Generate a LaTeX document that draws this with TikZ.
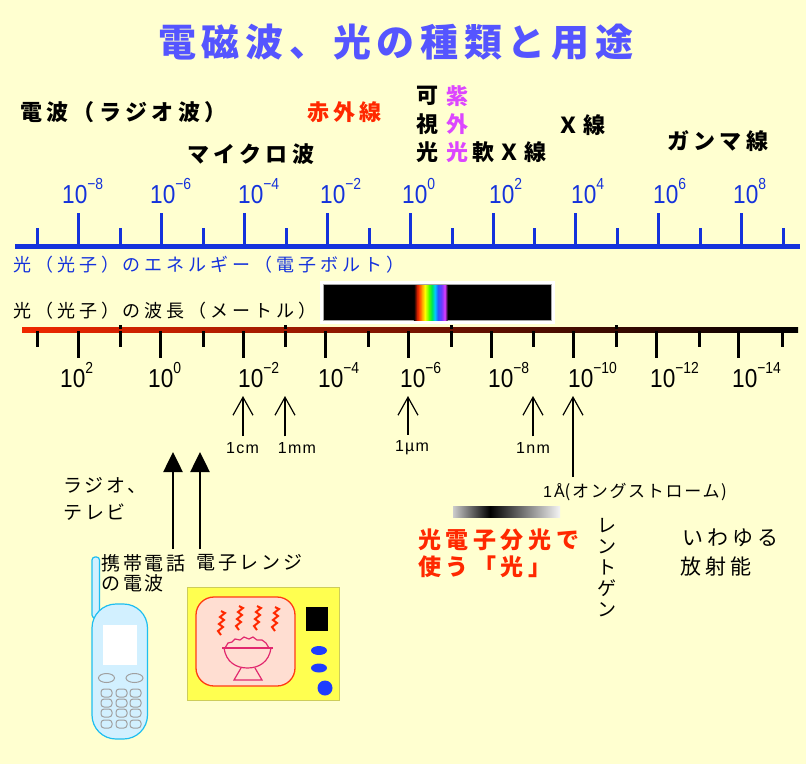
\documentclass[tikz,border=0pt]{standalone}
\usepackage{fontspec}
\usetikzlibrary{arrows.meta}
\setmainfont{Liberation Sans}
\newfontfamily\jp{Noto Sans CJK JP}
\newfontfamily\lat{Liberation Sans}

\definecolor{bg}{RGB}{255,255,208}
\definecolor{titleblue}{RGB}{85,85,255}
\definecolor{axisblue}{RGB}{20,50,220}
\definecolor{irred}{RGB}{255,40,0}
\definecolor{uvpurple}{RGB}{220,70,255}
\definecolor{axred}{RGB}{240,40,0}
\definecolor{axmid}{RGB}{145,22,0}
\definecolor{sp1}{RGB}{200,30,0}
\definecolor{sp2}{RGB}{255,60,0}
\definecolor{sp3}{RGB}{255,160,0}
\definecolor{sp4}{RGB}{255,255,0}
\definecolor{sp5}{RGB}{80,255,0}
\definecolor{sp6}{RGB}{0,230,90}
\definecolor{sp7}{RGB}{0,200,255}
\definecolor{sp8}{RGB}{40,90,255}
\definecolor{sp9}{RGB}{120,60,255}
\definecolor{sp10}{RGB}{220,60,255}
\definecolor{phoneline}{RGB}{30,190,240}
\definecolor{phonefill}{RGB}{210,240,255}
\definecolor{keygray}{RGB}{160,160,160}
\definecolor{ovenyellow}{RGB}{255,255,80}
\definecolor{ovenedge}{RGB}{205,205,90}
\definecolor{winfill}{RGB}{255,222,210}
\definecolor{winedge}{RGB}{255,60,20}
\definecolor{bowlpink}{RGB}{225,40,110}
\definecolor{knobblue}{RGB}{30,60,255}

% power of ten label: 10 with raised exponent
\newcommand\tenp[1]{\scalebox{0.87}[1]{10\raisebox{14pt}{\fontsize{16}{16}\selectfont#1}}}

\begin{document}
\begin{tikzpicture}[x=1pt,y=-1pt,
  ttl/.style={font=\jp\bfseries\fontsize{38}{40}\selectfont\addfontfeature{LetterSpace=15},
    text=titleblue, inner sep=0, anchor=west},
  band/.style={font=\jp\bfseries\fontsize{22}{24}\selectfont\addfontfeature{LetterSpace=20},
    inner sep=0, anchor=west},
  capt/.style={font=\jp\fontsize{18}{20}\selectfont\addfontfeature{LetterSpace=22},
    inner sep=0, anchor=west},
  powlbl/.style={font=\lat\fontsize{26}{26}\selectfont, inner sep=0, anchor=base west},
  unitlbl/.style={font=\lat\fontsize{16}{16}\selectfont\addfontfeature{LetterSpace=8}, inner sep=0},
  small/.style={font=\jp\fontsize{19}{21}\selectfont\addfontfeature{LetterSpace=15},
    inner sep=0, anchor=west},
  redb/.style={font=\jp\bfseries\fontsize{23}{24}\selectfont\addfontfeature{LetterSpace=20},
    text=irred, inner sep=0, anchor=west},
  medium/.style={font=\jp\fontsize{21}{23}\selectfont\addfontfeature{LetterSpace=20},
    inner sep=0, anchor=west},
  bluetick/.style={axisblue, line width=3},
  blacktick/.style={black, line width=3},
  thinarrow/.style={draw=black, line width=1.2, -{Straight Barb[length=18pt,width=20pt]}},
  thickarrow/.style={draw=black, line width=2.6, -{Triangle[length=20pt,width=19pt]}},
  phone/.style={fill=phonefill, draw=phoneline, line width=1.2},
  key/.style={draw=keygray, line width=1},
  steam/.style={draw=irred, line width=2, line join=miter},
  bowl/.style={draw=bowlpink, line width=1.2}
]
\fill[bg] (0,0) rectangle (806,764);
\useasboundingbox (0,0) rectangle (806,764);

% title
\node[ttl] (title) at (158,42) {電磁波、光の種類と用途};

% kinds of radiation
\node[band] (radio) at (20,112) {電波（ラジオ波）};
\node[band, text=irred] (ir) at (307,112) {赤外線};
\node[band] (micro) at (187,154) {マイクロ波};
\node[band] (visA) at (416,96) {可};
\node[band] (visB) at (416,124) {視};
\node[band] (visC) at (416,152) {光};
\node[band, text=uvpurple] (uvA) at (446,96) {紫};
\node[band, text=uvpurple] (uvB) at (446,124) {外};
\node[band, text=uvpurple] (uvC) at (446,152) {光};
\node[band] (softx) at (472,152) {軟Ｘ線};
\node[band] (xray) at (557,125) {Ｘ線};
\node[band] (gamma) at (667,141) {ガンマ線};

% energy axis
\foreach \x/\e in {62/−8, 150/−6, 238/−4, 320/−2, 402/0, 489/2, 571/4, 653/6, 733/8}
  \node[powlbl, text=axisblue] (e\x) at (\x,203) {\tenp{\e}};
\draw[axisblue, line width=5] (15,246) -- (800,246);
\foreach \i in {0,...,8} \draw[bluetick] (78.5+82.9*\i,246) -- ++(0,-33);
\foreach \i in {0,...,9} \draw[bluetick] (37.5+82.9*\i,246) -- ++(0,-18);
\node[capt, text=axisblue] (ecap) at (13,265) {光（光子）のエネルギー（電子ボルト）};

% wavelength axis
\node[capt] (wcap) at (13,311) {光（光子）の波長（メートル）};
\fill[white] (320,281) rectangle (555,324);
\filldraw[fill=black, draw=gray!70, line width=1] (323.5,284.5) rectangle (551.5,320.5);
\foreach \xa/\xb/\ca/\cb in {414/417/black/sp1, 417/419/sp1/sp2, 419/422/sp2/sp3,
    422/425/sp3/sp4, 425/429/sp4/sp5, 429/432/sp5/sp6, 432/435/sp6/sp7,
    435/438/sp7/sp8, 438/442/sp8/sp9, 442/445/sp9/sp10, 445/447.5/sp10/black}
  \shade[left color=\ca, right color=\cb] (\xa-0.2,285) rectangle (\xb+0.2,320);
\shade[left color=axred, middle color=axmid, right color=black] (22,327.5) rectangle (798,332.5);
\foreach \i in {0,...,8} \draw[blacktick] (78+82.6*\i,331) -- ++(0,27);
\foreach \i in {0,...,9} \draw[blacktick] (37.7+82.7*\i,331) -- ++(0,16);
\foreach \i in {1,3,5,7} \draw[blacktick] (37.7+82.7*\i,325) -- ++(0,4);
\foreach \x/\e in {60/2, 148/0, 238/−2, 318/−4, 400/−6, 488/−8, 568/−10, 650/−12, 732/−14}
  \node[powlbl] (w\x) at (\x,387) {\tenp{\e}};

% length marks
\coordinate (cmtip) at (243,396);
\coordinate (mmtip) at (285,396);
\coordinate (umtip) at (408,396);
\coordinate (nmtip) at (533,396);
\coordinate (angtip) at (573,396);
\node[unitlbl] (cm) at (242.5,448) {1cm};
\node[unitlbl] (mm) at (297,448) {1mm};
\node[unitlbl] (um) at (412,448) {1µm};
\node[unitlbl] (nm) at (533,448) {1nm};
\node[inner sep=0, anchor=west] (ang) at (543,492)
  {\lat\fontsize{16}{16}\selectfont\addfontfeature{LetterSpace=12}1Å%
   \jp\fontsize{17}{17}\selectfont\addfontfeature{LetterSpace=10}(オングストローム)};
\draw[thinarrow, shorten <=6pt] (cm.north -| cmtip) -- (cmtip);
\draw[thinarrow, shorten <=6pt] (mm.north -| mmtip) -- (mmtip);
\draw[thinarrow, shorten <=6pt] (um.north -| umtip) -- (umtip);
\draw[thinarrow, shorten <=6pt] (nm.north -| nmtip) -- (nmtip);
\draw[thinarrow, shorten <=6pt] (ang.north -| angtip) -- (angtip);

% everyday uses
\node[small] (radiotv1) at (63,485) {ラジオ、};
\node[small] (radiotv2) at (63,512) {テレビ};
\node[small] (phlbl) at (101,563) {携帯電話};
\node[small] (phlbl2) at (101,583) {の電波};
\node[small] (mwlbl) at (196,563) {電子レンジ};
\coordinate (phtip) at (173,452);
\coordinate (mwtip) at (200,452);
\draw[thickarrow, shorten <=5pt] (phlbl.north -| phtip) -- (phtip);
\draw[thickarrow, shorten <=5pt] (mwlbl.north -| mwtip) -- (mwtip);

% mobile phone
\filldraw[phone, rounded corners=3] (92,557) rectangle (99.5,618);
\filldraw[phone, rounded corners=24] (92,604) rectangle (147.5,739);
\fill[white] (103,625) rectangle (137,665);
\draw[key] (106.5,678) ellipse [x radius=8, y radius=4.5];
\draw[key] (134.5,678) ellipse [x radius=8.5, y radius=4.5];
\foreach \cx in {106.5,121.5,135.5}
  \foreach \cy in {693,703,713,724}
    \draw[key, rounded corners=3] (\cx-5.5,\cy-4) rectangle (\cx+5.5,\cy+4);

% microwave oven
\filldraw[fill=ovenyellow, draw=ovenedge, line width=1] (187,587) rectangle (339,700);
\filldraw[fill=winfill, draw=winedge, line width=1.3, rounded corners=18] (196,597) rectangle (295,686);
\fill[black] (306,607) rectangle (328,631);
\fill[knobblue] (319,650.5) ellipse [x radius=8, y radius=4.5];
\fill[knobblue] (319,668) ellipse [x radius=8, y radius=4.5];
\fill[knobblue] (325,688) circle (7.5);
\foreach \x/\y in {221/611, 239/606, 257/606, 275/607}
  \draw[steam] (\x,\y) -- ++(4,2) -- ++(-5,4) -- ++(4,3) -- ++(-5,4) -- ++(4,3) -- ++(-5,4) -- ++(3,4);
\draw[bowl] (225,648) -- (228,643) -- (232,642) -- (235,639) -- (240,640) -- (244,637)
  -- (249,639) -- (253,637) -- (257,640) -- (262,640) -- (266,643) -- (269,648);
\draw[bowl] (222,648) -- (273,648);
\draw[bowl] (224,648) .. controls (226,662) and (236,668) .. (247.5,668)
  .. controls (259,668) and (269,662) .. (271,648);
\draw[bowl] (241,668) -- (234,680) -- (262,680) -- (255,668);

% photoelectron spectroscopy and others
\shade[left color=gray!40, right color=black] (453,506) rectangle (490,517);
\shade[left color=black, right color=gray!8] (490,506) rectangle (560,517);
\node[redb] (pes1) at (418,540) {光電子分光で};
\node[redb] (pes2) at (418,567) {使う「光」};
\node[inner sep=0, align=center, font=\jp\fontsize{19}{21}\selectfont] (xr) at (607,568)
  {レ\\ン\\ト\\ゲ\\ン};
\node[medium] (rad1) at (682,538) {いわゆる};
\node[medium] (rad2) at (680,567) {放射能};
\end{tikzpicture}
\end{document}
